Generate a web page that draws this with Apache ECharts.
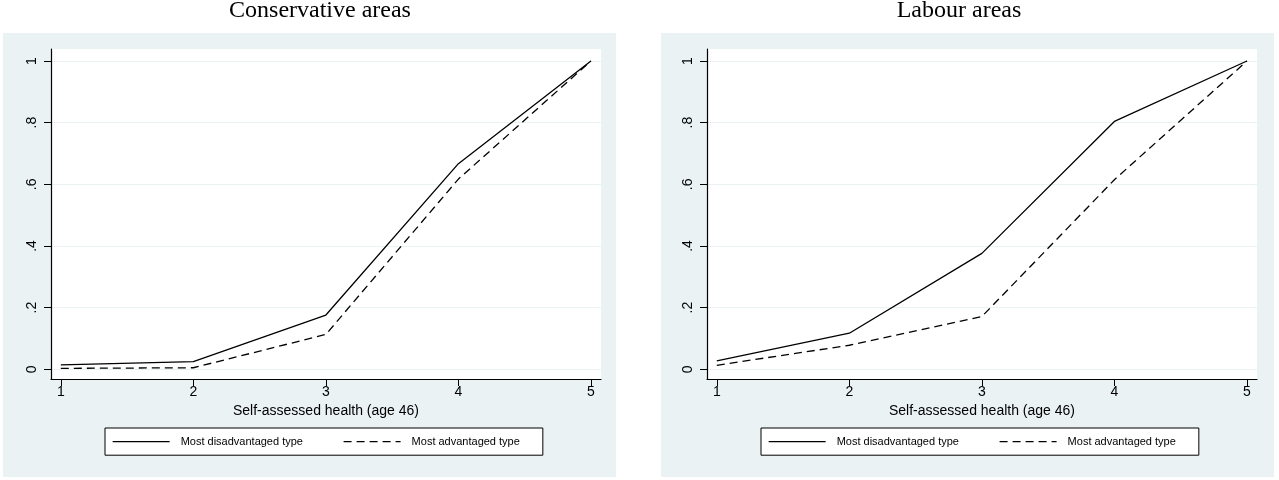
<!DOCTYPE html>
<html><head><meta charset="utf-8">
<script src="https://cdn.jsdelivr.net/npm/echarts@6/dist/echarts.min.js"></script>
<style>html,body{margin:0;padding:0;background:#fff}#c{width:1279px;height:480px}</style>
</head><body><div id="c"></div>
<script>
// ---- data ----
const xValues = [1, 2, 3, 4, 5];
const yTicks = [0, 0.2, 0.4, 0.6, 0.8, 1];
const yTickLabels = ['0', '.2', '.4', '.6', '.8', '1'];
const seriesNames = ['Most disadvantaged type', 'Most advantaged type'];
const panelTitles = ['Conservative areas', 'Labour areas'];
const xAxisTitle = 'Self-assessed health (age 46)';
const conDisadv = [0.014, 0.025, 0.176, 0.667, 1];
const conAdv    = [0.003, 0.005, 0.113, 0.617, 1];
const labDisadv = [0.027, 0.117, 0.376, 0.804, 1];
const labAdv    = [0.013, 0.078, 0.171, 0.615, 1];

// ---- styling / layout ----
const BG = '#EAF2F3';
const SANS = 'Liberation Sans, Arial, Helvetica, sans-serif';
const SERIF = 'Liberation Serif, Times New Roman, serif';
const panels = [
  { bgX: 3,   gridLeft: 51,  legendLeft: 105, titleX: 320, a: conDisadv, b: conAdv },
  { bgX: 661, gridLeft: 707, legendLeft: 761, titleX: 959, a: labDisadv, b: labAdv }
];
const yLabel = v => {
  const i = yTicks.findIndex(t => Math.abs(t - v) < 1e-9);
  return i >= 0 ? yTickLabels[i] : '';
};

const option = {
  animation: false,
  backgroundColor: '#fff',
  graphic: panels.map(p => ({
    type: 'rect', z: -100, silent: true,
    shape: { x: p.bgX, y: 33, width: 613, height: 444 },
    style: { fill: BG }
  })),
  title: panels.map((p, i) => ({
    text: panelTitles[i], left: p.titleX, top: -1, textAlign: 'center', padding: 0,
    textStyle: { fontFamily: SERIF, fontSize: 24, fontWeight: 'normal', color: '#000' }
  })),
  grid: panels.map(p => ({
    left: p.gridLeft, top: 49, width: 550, height: 330,
    show: true, backgroundColor: '#fff', borderWidth: 0, containLabel: false
  })),
  xAxis: panels.map((p, i) => ({
    type: 'value', gridIndex: i, min: 0.926, max: 5.076,
    axisLine: { show: true, onZero: false, lineStyle: { color: '#000', width: 1.2 } },
    axisTick: { show: true, customValues: xValues, length: 7, lineStyle: { color: '#000', width: 1 } },
    axisLabel: { customValues: xValues, fontSize: 14, color: '#000', fontFamily: SANS, margin: 6 },
    splitLine: { show: false },
    name: xAxisTitle, nameLocation: 'middle', nameGap: 25,
    nameTextStyle: { fontSize: 14, color: '#000', fontFamily: SANS }
  })),
  yAxis: panels.map((p, i) => ({
    type: 'value', gridIndex: i, min: -0.0315, max: 1.039,
    axisLine: { show: true, onZero: false, lineStyle: { color: '#000', width: 1.2 } },
    axisTick: { show: true, customValues: yTicks, length: 7, lineStyle: { color: '#000', width: 1 } },
    axisLabel: { customValues: yTicks, formatter: yLabel, rotate: 90, fontSize: 14, color: '#000', fontFamily: SANS, margin: 12 },
    splitLine: { show: true, lineStyle: { color: BG, width: 1 } }
  })),
  legend: panels.map((p, i) => ({
    data: seriesNames, left: p.legendLeft, top: 428, orient: 'horizontal',
    backgroundColor: '#fff', borderColor: '#000', borderWidth: 1, borderRadius: 0,
    padding: [8, 23, 8, 7], itemWidth: 57, itemHeight: 14, itemGap: 40,
    selectedMode: false,
    itemStyle: { opacity: 0 },
    lineStyle: { width: 1.3, color: '#000' },
    textStyle: { fontSize: 11, color: '#000', fontFamily: SANS, padding: [0, 0, 0, 6] }
  })),
  series: panels.flatMap((p, i) => [
    {
      name: seriesNames[0], type: 'line', xAxisIndex: i, yAxisIndex: i,
      symbol: 'none', showSymbol: false, data: xValues.map((x, k) => [x, p.a[k]]),
      lineStyle: { color: '#000', width: 1.3, type: 'solid' }, itemStyle: { color: '#000' }
    },
    {
      name: seriesNames[1], type: 'line', xAxisIndex: i, yAxisIndex: i,
      symbol: 'none', showSymbol: false, data: xValues.map((x, k) => [x, p.b[k]]),
      lineStyle: { color: '#000', width: 1.3, type: [8, 5] }, itemStyle: { color: '#000' }
    }
  ])
};
const chart = echarts.init(document.getElementById('c'), null, { renderer: 'canvas' });
chart.setOption(option);
</script>
</body></html>
